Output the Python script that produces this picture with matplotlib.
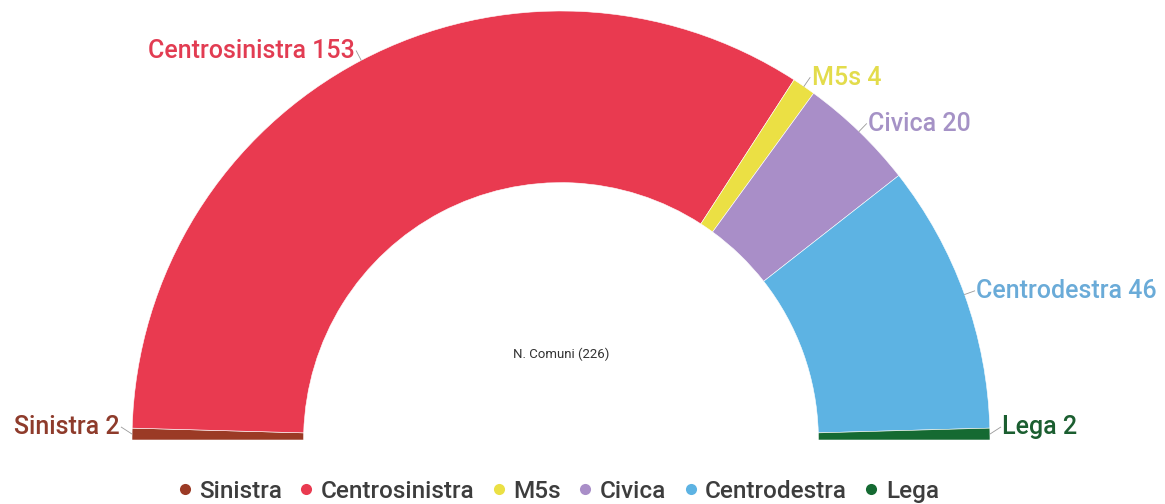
import numpy as np
import matplotlib.pyplot as plt
from matplotlib.lines import Line2D

plt.rcParams['font.family'] = ['Roboto', 'DejaVu Sans']

parties = ['Sinistra', 'Centrosinistra', 'M5s', 'Civica', 'Centrodestra', 'Lega']
seats = [2, 153, 4, 20, 46, 2]
colors = ['#9b3a25', '#e93a50', '#ebe044', '#a98ec8', '#5db3e3', '#156a32']
label_colors = ['#8e3b2b', '#e23c52', '#e3dc4c', '#a592c6', '#6aabd8', '#1b5e30']
center_text = 'N. Comuni (226)'

fig = plt.figure(figsize=(11.65, 5.04), dpi=100)
ax = fig.add_axes([0, 0, 1, 1])

total = sum(seats)
wedges, _ = ax.pie(seats + [total], startangle=180, counterclock=False, radius=1.0,
                   colors=colors + ['none'],
                   wedgeprops=dict(width=0.4, edgecolor='white', linewidth=0.4))
wedges[-1].set_visible(False)

# labels at the middle of each slice
start = 180.0
for name, val, lc in zip(parties, seats, label_colors):
    span = 180.0 * val / total
    mid = np.radians(start - span / 2)
    start -= span
    x0, y0 = np.cos(mid), np.sin(mid)
    r = 1.025
    xl, yl = r * np.cos(mid), r * np.sin(mid)
    if yl < 0.03:
        yl = 0.03
    ax.plot([x0, xl], [max(y0, 0.005), yl], color='#999999', lw=0.6)
    ha = 'right' if xl < 0 else 'left'
    ax.text(xl + (0.004 if ha == 'left' else -0.004), yl, f'{name} {val}',
            ha=ha, va='center', fontsize=18, fontweight='medium', color=lc)

ax.text(0, 0.2, center_text, ha='center', va='center', fontsize=9.5, color='#333333')

ax.set_xlim(-561 / 429, (1165 - 561) / 429)
ax.set_ylim(-64 / 429, (504 - 64) / 429)
ax.set_aspect('equal')
ax.axis('off')

handles = [Line2D([], [], marker='o', linestyle='none', markersize=8,
                  markerfacecolor=c, markeredgecolor='none') for c in colors]
leg = fig.legend(handles, parties, loc='center', bbox_to_anchor=(0.477, 0.025), ncol=6,
                 frameon=False, fontsize=17.5, handletextpad=0.1, columnspacing=0.5,
                 handlelength=1.0, labelcolor='#3d3d3d')
for t in leg.get_texts():
    t.set_fontweight('medium')

fig.savefig('out.png', dpi=100, facecolor='white')
